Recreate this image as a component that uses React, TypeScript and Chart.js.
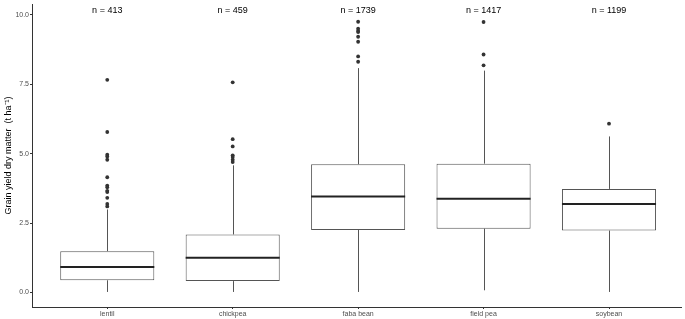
import React, { useEffect, useRef } from "react";
import { Chart, registerables } from "chart.js";

Chart.register(...registerables);

const categories = ["lentil", "chickpea", "faba bean", "field pea", "soybean"];
const counts = [413, 459, 1739, 1417, 1199];
const q1 = [0.44, 0.41, 2.25, 2.3, 2.23];
const medians = [0.92, 1.25, 3.46, 3.38, 3.19];
const q3 = [1.49, 2.09, 4.62, 4.64, 3.73];
const whiskerLow = [0.02, 0.02, 0.02, 0.08, 0.02];
const whiskerHigh = [2.99, 4.58, 8.08, 7.99, 5.62];
const outliers: number[][] = [
  [7.66, 5.78, 4.96, 4.9, 4.78, 4.15, 3.85, 3.79, 3.66, 3.62, 3.41, 3.19, 3.1],
  [7.57, 5.52, 5.26, 4.94, 4.88, 4.78, 4.7],
  [9.75, 9.5, 9.42, 9.38, 9.21, 9.03, 8.5, 8.31],
  [9.74, 8.57, 8.18],
  [6.08],
];
const yTicks = [0, 2.5, 5, 7.5, 10];
const nLabelY = 10.16;

const boxPlugin = {
  id: "boxExtras",
  beforeDatasetsDraw(chart: any) {
    const { ctx, scales } = chart;
    const x = scales.x;
    const y = scales.y;
    ctx.save();
    ctx.strokeStyle = "#555555";
    ctx.lineWidth = 1;
    categories.forEach((_, i) => {
      const px = Math.round(x.getPixelForValue(i + 1)) + 0.5;
      ctx.beginPath();
      ctx.moveTo(px, y.getPixelForValue(q3[i]));
      ctx.lineTo(px, y.getPixelForValue(whiskerHigh[i]));
      ctx.moveTo(px, y.getPixelForValue(q1[i]));
      ctx.lineTo(px, y.getPixelForValue(whiskerLow[i]));
      ctx.stroke();
    });
    ctx.restore();
  },
  afterDatasetsDraw(chart: any) {
    const { ctx, scales } = chart;
    const x = scales.x;
    const y = scales.y;
    const meta = chart.getDatasetMeta(0);
    ctx.save();
    ctx.strokeStyle = "#222222";
    ctx.lineWidth = 2;
    categories.forEach((_, i) => {
      const bar = meta.data[i];
      const half = bar.width / 2;
      const px = x.getPixelForValue(i + 1);
      const py = y.getPixelForValue(medians[i]);
      ctx.beginPath();
      ctx.moveTo(px - half, py);
      ctx.lineTo(px + half, py);
      ctx.stroke();
    });
    ctx.fillStyle = "#000000";
    ctx.font = "9px 'Liberation Sans', Arial, sans-serif";
    ctx.textAlign = "center";
    ctx.textBaseline = "middle";
    categories.forEach((_, i) => {
      ctx.fillText(
        "n = " + counts[i],
        x.getPixelForValue(i + 1),
        y.getPixelForValue(nLabelY)
      );
    });
    ctx.restore();
  },
};

export default function App() {
  const ref = useRef<HTMLCanvasElement | null>(null);
  useEffect(() => {
    document.body.style.margin = "0";
    const canvas = ref.current;
    if (!canvas) return;
    const boxData = categories.map((_, i) => ({ x: i + 1, y: [q1[i], q3[i]] }));
    const outlierData: { x: number; y: number }[] = [];
    outliers.forEach((arr, i) => arr.forEach((v) => outlierData.push({ x: i + 1, y: v })));
    const chart = new Chart(canvas, {
      type: "bar",
      data: {
        datasets: [
          {
            type: "bar",
            data: boxData as any,
            backgroundColor: "#ffffff",
            borderColor: "#555555",
            borderWidth: 1,
            borderSkipped: false,
            categoryPercentage: 1,
            barPercentage: 0.75,
          } as any,
          {
            type: "scatter",
            data: outlierData,
            backgroundColor: "#333333",
            borderColor: "#333333",
            pointRadius: 1.9,
            borderWidth: 0,
          } as any,
        ],
      },
      plugins: [boxPlugin],
      options: {
        animation: false,
        responsive: false,
        maintainAspectRatio: false,
        layout: { padding: 0 },
        plugins: {
          legend: { display: false },
          tooltip: { enabled: false },
        },
        scales: {
          x: {
            type: "linear",
            min: 0.4,
            max: 5.574,
            offset: false,
            afterBuildTicks: (s: any) => {
              s.ticks = categories.map((_, i) => ({ value: i + 1 }));
            },
            afterFit: (s: any) => {
              s.height = 12;
              s.paddingLeft = 0;
              s.paddingRight = 0;
            },
            ticks: {
              autoSkip: false,
              maxRotation: 0,
              padding: 1,
              color: "#4d4d4d",
              font: { size: 7, family: "'Liberation Sans', Arial, sans-serif" },
              callback: (v: any) => categories[Math.round(Number(v)) - 1] ?? "",
            },
            grid: {
              offset: false,
              drawOnChartArea: false,
              drawTicks: true,
              tickLength: 2,
              color: "#333333",
            },
            border: { display: true, color: "#333333", width: 1 },
          } as any,
          y: {
            type: "linear",
            min: -0.522,
            max: 10.389,
            afterBuildTicks: (s: any) => {
              s.ticks = yTicks.map((v) => ({ value: v }));
            },
            afterFit: (s: any) => {
              s.width = 32;
              s.paddingTop = 0;
              s.paddingBottom = 0;
            },
            ticks: {
              padding: 1,
              color: "#4d4d4d",
              font: { size: 7, family: "'Liberation Sans', Arial, sans-serif" },
              callback: (v: any) => Number(v).toFixed(1),
            },
            grid: {
              drawOnChartArea: false,
              drawTicks: true,
              tickLength: 2,
              color: "#333333",
            },
            border: { display: true, color: "#333333", width: 1 },
            title: {
              display: true,
              text: "Grain yield dry matter  (t ha\u207B\u00B9)",
              color: "#000000",
              font: { size: 9, family: "'Liberation Sans', Arial, sans-serif" },
              padding: { top: 3, bottom: 0 },
            },
          } as any,
        },
      },
    });
    return () => chart.destroy();
  }, []);
  return (
    <div style={{ width: 685, height: 319 }}>
      <canvas ref={ref} width={685} height={319} style={{ display: "block" }} />
    </div>
  );
}
